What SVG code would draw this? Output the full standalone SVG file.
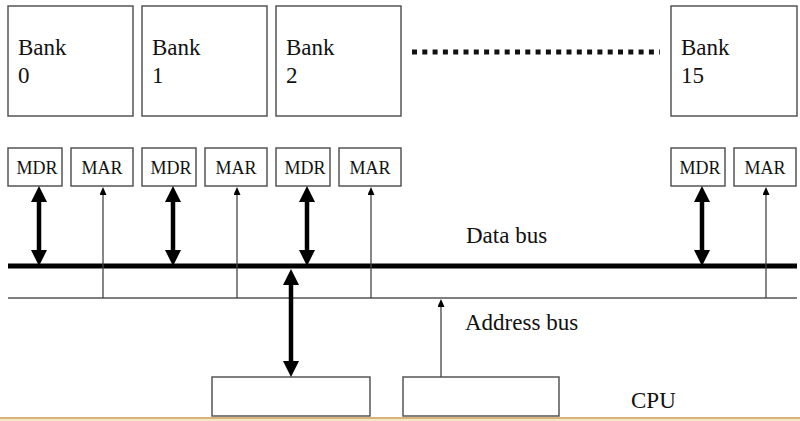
<svg xmlns="http://www.w3.org/2000/svg" width="800" height="421" viewBox="0 0 800 421">
<style>
.box{fill:#fff;stroke:#555;stroke-width:1.5}
.bank{font-size:23px}
.reg{font-size:18px;text-anchor:middle}
.lbl{font-size:23px}
.thick{stroke:#000;stroke-width:4.5;fill:none}
.thin{stroke:#444;stroke-width:1.3;fill:none}
</style>
<defs>
<marker id="big" viewBox="0 -8 16 16" refX="1" refY="0" markerWidth="16" markerHeight="16" markerUnits="userSpaceOnUse" orient="auto-start-reverse">
<path d="M0,-8 L16,0 L0,8 z" fill="#000"/>
</marker>
<marker id="small" viewBox="0 -3.5 8 7" refX="1" refY="0" markerWidth="8" markerHeight="7" markerUnits="userSpaceOnUse" orient="auto">
<path d="M0,-3.5 L8,0 L0,3.5 z" fill="#000"/>
</marker>
</defs>
<rect width="800" height="421" fill="#fff"/>
<g font-family="'Liberation Serif', 'Times New Roman', Times, 'DejaVu Serif', serif" fill="#111">
<g id="bank0"><rect class="box" x="8" y="6" width="125" height="110"/><text class="bank" x="18" y="55">Bank</text><text class="bank" x="18" y="83">0</text></g>
<g id="bank1"><rect class="box" x="142" y="6" width="125" height="110"/><text class="bank" x="152" y="55">Bank</text><text class="bank" x="152" y="83">1</text></g>
<g id="bank2"><rect class="box" x="276" y="6" width="125" height="110"/><text class="bank" x="286" y="55">Bank</text><text class="bank" x="286" y="83">2</text></g>
<g id="bank15"><rect class="box" x="671" y="6" width="126" height="110"/><text class="bank" x="681" y="55">Bank</text><text class="bank" x="681" y="83">15</text></g>
<g id="ellipsis"><line x1="412" y1="52" x2="660" y2="52" stroke="#111" stroke-width="5" stroke-dasharray="5 5.3"/></g>

<g id="mdr0"><rect class="box" x="8" y="148" width="54" height="38"/><text class="reg" x="37" y="174">MDR</text></g>
<g id="mar0"><rect class="box" x="71" y="148" width="62" height="38"/><text class="reg" x="102" y="174">MAR</text></g>
<g id="mdr1"><rect class="box" x="142" y="148" width="54" height="38"/><text class="reg" x="171" y="174">MDR</text></g>
<g id="mar1"><rect class="box" x="205" y="148" width="62" height="38"/><text class="reg" x="236" y="174">MAR</text></g>
<g id="mdr2"><rect class="box" x="276" y="148" width="54" height="38"/><text class="reg" x="305" y="174">MDR</text></g>
<g id="mar2"><rect class="box" x="339" y="148" width="62" height="38"/><text class="reg" x="370" y="174">MAR</text></g>
<g id="mdr15"><rect class="box" x="671" y="148" width="54" height="38"/><text class="reg" x="700" y="174">MDR</text></g>
<g id="mar15"><rect class="box" x="734" y="148" width="62" height="38"/><text class="reg" x="765" y="174">MAR</text></g>

<g id="cpu"><rect class="box" x="212" y="377" width="158" height="39"/><rect class="box" x="403" y="377" width="156" height="39"/><text class="lbl" x="631" y="408">CPU</text></g>

<g id="buses">
<line x1="8" y1="266" x2="797" y2="266" stroke="#000" stroke-width="5"/>
<line x1="8" y1="298" x2="797" y2="298" stroke="#555" stroke-width="1.3"/>
<text class="lbl" x="466" y="243">Data bus</text>
<text class="lbl" x="465" y="330">Address bus</text>
</g>
</g>
<g id="connectors">
<line class="thick" x1="39" y1="201" x2="39" y2="251" marker-start="url(#big)" marker-end="url(#big)"/>
<line class="thick" x1="173" y1="201" x2="173" y2="251" marker-start="url(#big)" marker-end="url(#big)"/>
<line class="thick" x1="307" y1="201" x2="307" y2="251" marker-start="url(#big)" marker-end="url(#big)"/>
<line class="thick" x1="702" y1="201" x2="702" y2="251" marker-start="url(#big)" marker-end="url(#big)"/>
<line class="thick" x1="291" y1="284" x2="291" y2="362" marker-start="url(#big)" marker-end="url(#big)"/>
<line class="thin" x1="103" y1="298" x2="103" y2="194" marker-end="url(#small)"/>
<line class="thin" x1="237" y1="298" x2="237" y2="194" marker-end="url(#small)"/>
<line class="thin" x1="371" y1="298" x2="371" y2="194" marker-end="url(#small)"/>
<line class="thin" x1="766" y1="298" x2="766" y2="194" marker-end="url(#small)"/>
<line class="thin" x1="441" y1="377" x2="441" y2="306" marker-end="url(#small)"/>
</g>

<g id="floor">
<rect x="0" y="417" width="800" height="2" fill="#d8b47a"/>
<rect x="0" y="419" width="800" height="2" fill="#f4e6c8"/>
</g>
</svg>
